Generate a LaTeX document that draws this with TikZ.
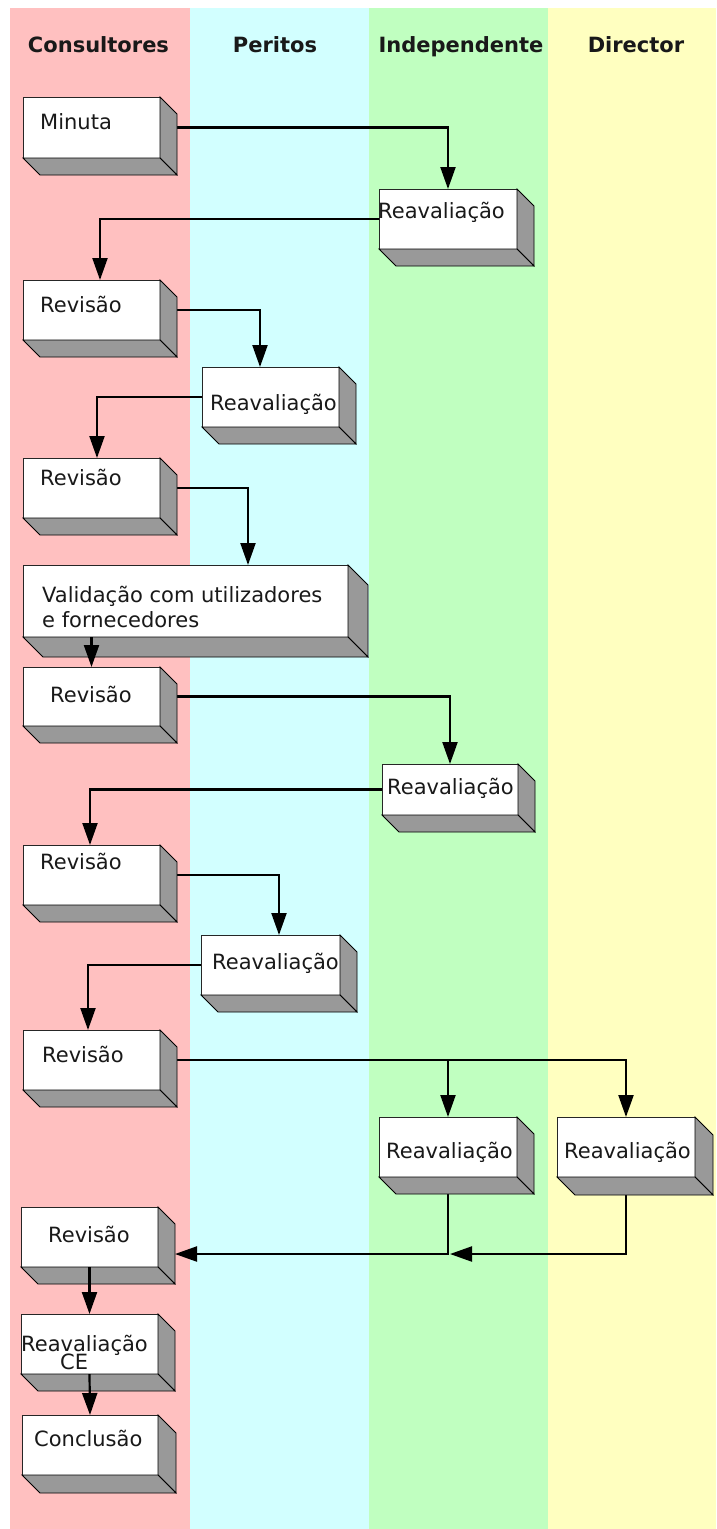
\documentclass[tikz,border=0pt]{standalone}
\usepackage{fontspec}
\setmainfont{DejaVu Sans}
\usetikzlibrary{arrows.meta,calc}
\pgfdeclarelayer{lanes}
\pgfdeclarelayer{back}
\pgfsetlayers{lanes,back,main}

\definecolor{lanepink}{RGB}{255,192,192}
\definecolor{lanecyan}{RGB}{210,255,255}
\definecolor{lanegreen}{RGB}{192,255,192}
\definecolor{laneyellow}{RGB}{255,255,192}
\definecolor{facegray}{RGB}{153,153,153}

\tikzset{
  frontface/.style={draw=black!85, fill=white, line width=0.8pt, inner sep=0pt, outer sep=0pt, rectangle},
  sideface/.style={draw=black, fill=facegray, line width=0.8pt, line join=miter},
  lbl/.style={font=\fontsize{21}{24}\selectfont, text=black!90, inner sep=0pt, anchor=base west},
  header/.style={font=\fontsize{21}{24}\selectfont\bfseries, text=black!90, inner sep=0pt, anchor=base},
  conn/.style={draw=black, line width=2.2pt, -{Triangle[length=22pt,width=15pt]}},
}

% a raised block: name, left, top, right, bottom, depth
\newcommand\raisedblock[6]{%
  \node[frontface, minimum width={#4-#2}, minimum height={#5-#3}, anchor=north west] (#1) at (#2,#3) {};
  \draw[sideface] (#1.north east) -- ++(#6,#6) -- ++(0,{#5-#3}) -- (#1.south east) -- cycle;
  \draw[sideface] (#1.south west) -- ++(#6,#6) -- ++({#4-#2},0) -- (#1.south east) -- cycle;
}

\begin{document}
\begin{tikzpicture}[x=1pt, y=-1pt]
\useasboundingbox (0,0) rectangle (716,1529);

% swim lanes
\begin{pgfonlayer}{lanes}
  \fill[white] (0,0) rectangle (716,1529);
  \fill[lanepink]   (10,8)  rectangle (190,1529);
  \fill[lanecyan]   (190,8) rectangle (369,1529);
  \fill[lanegreen]  (369,8) rectangle (548,1529);
  \fill[laneyellow] (548,8) rectangle (716,1529);
\end{pgfonlayer}

\node[header] (h1) at (98.5,52) {Consultores};
\node[header] (h2) at (275,52) {Peritos};
\node[header] (h3) at (461,52) {Independente};
\node[header] (h4) at (636,52) {Director};

% blocks
\raisedblock{b1}{23}{97}{160}{158}{17}
\raisedblock{b2}{379}{189}{517}{249}{17}
\raisedblock{b3}{23}{280}{160}{340}{17}
\raisedblock{b4}{202}{367}{339}{427}{17}
\raisedblock{b5}{23}{458}{160}{518}{17}
\raisedblock{b6}{23}{565}{348}{637}{20}
\raisedblock{b7}{23}{667}{160}{726}{17}
\raisedblock{b8}{382}{764}{518}{815}{17}
\raisedblock{b9}{23}{845}{160}{905}{17}
\raisedblock{b10}{201}{935}{340}{995}{17}
\raisedblock{b11}{23}{1030}{160}{1090}{17}
\raisedblock{b12}{379}{1117}{517}{1177}{17}
\raisedblock{b13}{557}{1117}{695}{1177}{18}
\raisedblock{b14}{21}{1207}{158}{1267}{17}
\raisedblock{b15}{21}{1314}{158}{1374}{17}
\raisedblock{b16}{22}{1415}{158}{1475}{18}

% block texts
\node[lbl] (t1) at (40,129) {Minuta};
\node[lbl] (t2) at (378,218) {Reavaliação};
\node[lbl] (t3) at (40,312) {Revisão};
\node[lbl] (t4) at (210,410) {Reavaliação};
\node[lbl] (t5) at (40,485) {Revisão};
\node[lbl] (t6a) at (42,602) {Validação com utilizadores};
\node[lbl] (t6b) at (42,627) {e fornecedores};
\node[lbl] (t7) at (50,702) {Revisão};
\node[lbl] (t8) at (387,794) {Reavaliação};
\node[lbl] (t9) at (40,869) {Revisão};
\node[lbl] (t10) at (212,969) {Reavaliação};
\node[lbl] (t11) at (42,1062) {Revisão};
\node[lbl] (t12) at (386,1158) {Reavaliação};
\node[lbl] (t13) at (564,1158) {Reavaliação};
\node[lbl] (t14) at (48,1242) {Revisão};
\node[lbl] (t15a) at (21,1351) {Reavaliação};
\node[lbl] (t15b) at (60,1369) {CE};
\node[lbl] (t16) at (34,1446) {Conclusão};

% connectors running behind the blocks
\begin{pgfonlayer}{back}
  \draw[conn] (b1.east) -| (b2.north);
  \draw[conn] (b2.west) -| ([xshift=8.5pt]b3.north);
  \draw[conn] (b3.east) -| ([xshift=-10.5pt]b4.north);
  \draw[conn] (b4.west) -| ([xshift=5.5pt]b5.north);
  \draw[conn] (b5.east) -| ([xshift=62.5pt]b6.north);
  \draw[conn] (b7.east) -| (b8.north);
  \draw[conn] (b8.west) -| ([xshift=-1.5pt]b9.north);
  \draw[conn] (b9.east) -| ([xshift=8.5pt]b10.north);
  \draw[conn] (b10.west) -| ([xshift=-3.5pt]b11.north);
  \draw[conn] (b11.east) -| (b13.north);
  \draw[conn] (b11.east -| b12.north) -- (b12.north);
  \draw[conn] (b12.south) |- ([xshift=17pt,yshift=-17pt]b14.east);
  \draw[conn] (b13.south) |- ($(b12.south |- b14.east)+(2,17)$);
\end{pgfonlayer}

% connectors drawn over the blocks
\draw[conn] (b6.south -| b7.north) -- (b7.north);
\draw[conn] (b14.south) -- (b15.north);
\draw[conn] (b15.south) -- (b16.north);
\end{tikzpicture}
\end{document}
